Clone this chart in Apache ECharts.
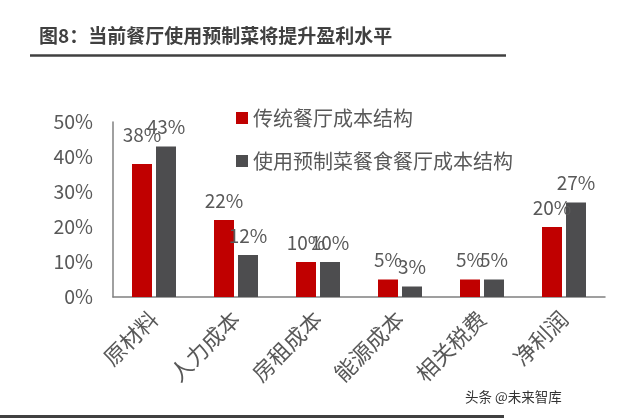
<!DOCTYPE html>
<html><head><meta charset="utf-8">
<script src="https://cdn.jsdelivr.net/npm/echarts@6/dist/echarts.min.js"></script>
<style>html,body{margin:0;padding:0;background:#fff}#c{width:640px;height:418px}</style>
</head><body><div id="c"></div>
<script>
var categories = ['原材料','人力成本','房租成本','能源成本','相关税费','净利润'];
var traditional = [38, 22, 10, 5, 5, 20];
var prepared = [43, 12, 10, 3, 5, 27];
var yTicks = [0, 10, 20, 30, 40, 50];
var seriesNames = ['传统餐厅成本结构', '使用预制菜餐食餐厅成本结构'];
var titleText = '图8：当前餐厅使用预制菜将提升盈利水平';
var watermark = '头条 @未来智库';

var chart = echarts.init(document.getElementById('c'));
var font = '"Noto Sans CJK SC", "Open Sans", sans-serif';
var labelStyle = {show: true, position: 'top', distance: 10, formatter: '{c}%', fontFamily: font, fontSize: 19, color: '#595959'};
chart.setOption({
  animation: false,
  backgroundColor: '#fff',
  title: {
    text: titleText, left: 34, top: 21,
    textStyle: {fontFamily: font, fontSize: 19, fontWeight: 'bold', color: '#404040'}
  },
  graphic: [
    {type: 'line', shape: {x1: 30, y1: 55.5, x2: 506, y2: 55.5}, style: {stroke: '#404040', lineWidth: 2.5}},
    {type: 'line', shape: {x1: 0, y1: 416.5, x2: 504, y2: 416.5}, style: {stroke: '#404040', lineWidth: 3}},
    {type: 'text', left: 465, top: 390, style: {text: watermark, fontFamily: font, fontSize: 13.5, fill: '#333'}}
  ],
  legend: {
    orient: 'vertical', left: 231, top: 103, itemGap: 23,
    itemWidth: 12, itemHeight: 12, icon: 'rect',
    textStyle: {fontFamily: font, fontSize: 20, color: '#595959'},
    data: seriesNames
  },
  grid: {left: 113, right: 35, top: 122, bottom: 121},
  xAxis: {
    type: 'category', data: categories,
    axisLine: {lineStyle: {color: '#808080', width: 1.5}},
    axisTick: {show: false},
    axisLabel: {rotate: 45, fontFamily: font, fontSize: 22, color: '#595959', margin: 18, interval: 0}
  },
  yAxis: {
    type: 'value', min: yTicks[0], max: yTicks[yTicks.length-1], interval: 10,
    axisLine: {show: true, lineStyle: {color: '#808080', width: 1.5}},
    axisTick: {show: false},
    splitLine: {show: false},
    axisLabel: {formatter: '{value}%', fontFamily: font, fontSize: 19.5, color: '#595959', margin: 20}
  },
  series: [
    {name: seriesNames[0], type: 'bar', barWidth: 20, barGap: '20%',
     data: traditional.map(function (v, i) { return i === 0 ? {value: v, label: {distance: 20}} : v; }),
     itemStyle: {color: '#c00000'}, label: labelStyle},
    {name: seriesNames[1], type: 'bar', data: prepared, barWidth: 20,
     itemStyle: {color: '#4d4d4f'}, label: labelStyle}
  ]
});
</script></body></html>
